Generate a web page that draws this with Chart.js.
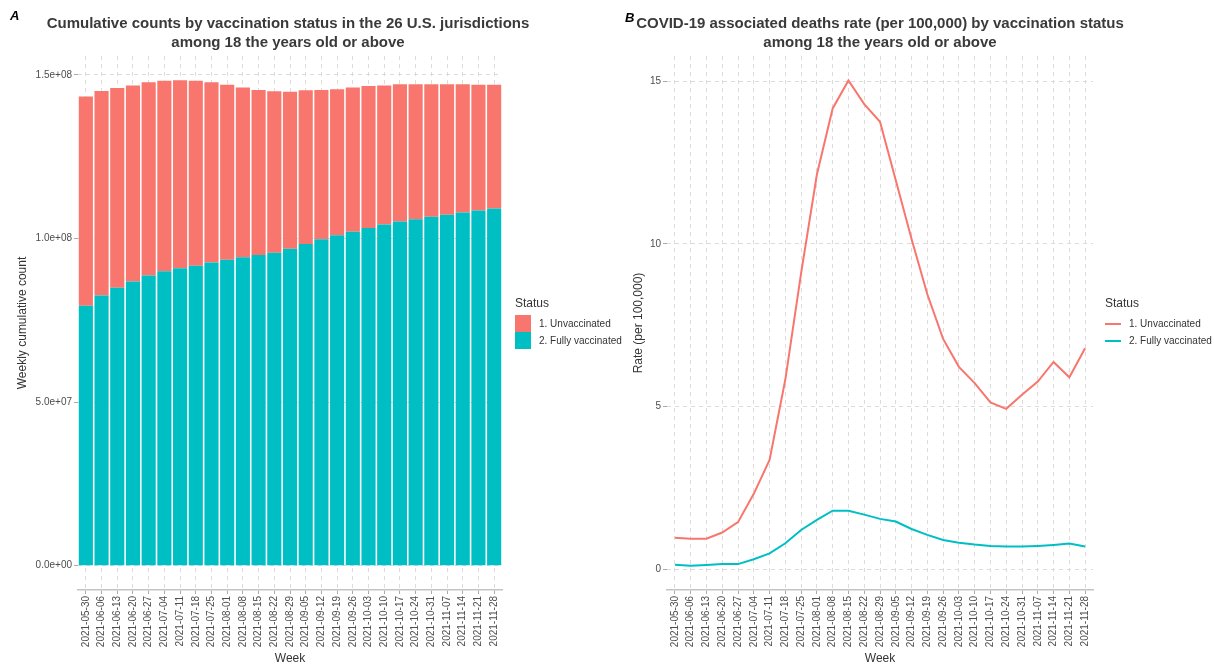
<!DOCTYPE html>
<html>
<head>
<meta charset="utf-8">
<script src="https://cdn.jsdelivr.net/npm/chart.js@4"></script>
<style>
  body { margin: 0; background: #fff; font-family: "Liberation Sans", Arial, sans-serif; }
  #wrap { position: relative; width: 1214px; height: 666px; overflow: hidden; }
  canvas { position: absolute; top: 0; }
  .title { position: absolute; font-weight: bold; font-size: 15px; line-height: 19px; color: #3a3a3a; text-align: center; white-space: nowrap; }
  .tag { position: absolute; font-weight: bold; font-style: italic; font-size: 13px; color: #000; }
  .leg { position: absolute; font-size: 10px; color: #333; }
  .leg .head { font-size: 12px; margin-bottom: 5px; }
  .leg .row { height: 17px; display: flex; align-items: center; }
  .leg .sq { width: 16px; height: 17px; margin-right: 8px; }
  .leg .ln { width: 16px; height: 2px; margin-right: 8px; }
</style>
</head>
<body>
<div id="wrap">
  <canvas id="chartA" width="620" height="666" style="left:0"></canvas>
  <canvas id="chartB" width="594" height="666" style="left:620px"></canvas>

  <div class="tag" style="left:10px;top:8px">A</div>
  <div class="title" style="left:288px;top:13px;transform:translateX(-50%)">Cumulative counts by vaccination status in the 26 U.S. jurisdictions<br>among 18 the years old or above</div>
  <div class="tag" style="left:625px;top:10px">B</div>
  <div class="title" style="left:880px;top:13px;transform:translateX(-50%)">COVID-19 associated deaths rate (per 100,000) by vaccination status<br>among 18 the years old or above</div>

  <div class="leg" style="left:515px;top:296px">
    <div class="head">Status</div>
    <div class="row"><div class="sq" style="background:#F8766D"></div>1. Unvaccinated</div>
    <div class="row"><div class="sq" style="background:#00BFC4"></div>2. Fully vaccinated</div>
  </div>
  <div class="leg" style="left:1105px;top:296px">
    <div class="head">Status</div>
    <div class="row"><div class="ln" style="background:#F8766D"></div>1. Unvaccinated</div>
    <div class="row"><div class="ln" style="background:#00BFC4"></div>2. Fully vaccinated</div>
  </div>
</div>

<script>
// weeks (shared by both panels)
const weeks = [
  '2021-05-30', '2021-06-06', '2021-06-13', '2021-06-20', '2021-06-27', '2021-07-04',
  '2021-07-11', '2021-07-18', '2021-07-25', '2021-08-01', '2021-08-08', '2021-08-15',
  '2021-08-22', '2021-08-29', '2021-09-05', '2021-09-12', '2021-09-19', '2021-09-26',
  '2021-10-03', '2021-10-10', '2021-10-17', '2021-10-24', '2021-10-31', '2021-11-07',
  '2021-11-14', '2021-11-21', '2021-11-28'
];

// panel A: weekly cumulative counts
const unvaccinatedCounts = [
  63.9e6, 62.5e6, 61.0e6, 59.9e6, 59.1e6, 58.2e6, 57.5e6, 56.5e6, 55.1e6,
  53.5e6, 51.9e6, 50.4e6, 49.3e6, 48.0e6, 47.0e6, 45.6e6, 44.6e6, 44.1e6,
  43.4e6, 42.5e6, 42.0e6, 41.3e6, 40.5e6, 39.9e6, 39.2e6, 38.4e6, 37.8e6
];
const vaccinatedCounts = [
  79.5e6, 82.6e6, 85.0e6, 86.9e6, 88.7e6, 90.0e6, 90.9e6, 91.7e6, 92.7e6,
  93.5e6, 94.3e6, 95.0e6, 95.7e6, 96.9e6, 98.3e6, 99.8e6, 101.0e6, 102.1e6,
  103.2e6, 104.3e6, 105.2e6, 105.9e6, 106.7e6, 107.3e6, 108.0e6, 108.6e6, 109.2e6
];
const countTicks = [0, 5e7, 1e8, 1.5e8];
const countTickLabels = ['0.0e+00', '5.0e+07', '1.0e+08', '1.5e+08'];

// panel B: deaths rate per 100,000
const unvaccinatedRate = [
  0.97, 0.94, 0.94, 1.13, 1.45, 2.32, 3.36, 5.83, 9.1,
  12.13, 14.16, 15.02, 14.29, 13.75, 11.95, 10.15, 8.45, 7.08,
  6.22, 5.72, 5.13, 4.93, 5.36, 5.77, 6.37, 5.90, 6.79
];
const vaccinatedRate = [
  0.14, 0.11, 0.13, 0.16, 0.16, 0.31, 0.49, 0.80, 1.21,
  1.52, 1.80, 1.80, 1.68, 1.55, 1.47, 1.24, 1.06, 0.90,
  0.82, 0.76, 0.72, 0.70, 0.70, 0.72, 0.75, 0.79, 0.70
];
const rateTicks = [0, 5, 10, 15];
const rateTickLabels = ['0', '5', '10', '15'];

const RED = '#F8766D';
const TEAL = '#00BFC4';
const GRID = '#dcdcdc';
const TICKTXT = '#4d4d4d';

Chart.defaults.font.family = '"Liberation Sans", Arial, sans-serif';
Chart.defaults.animation = false;

function fixTicks(values) {
  return scale => { scale.ticks = values.map(v => ({ value: v })); };
}

function xScale(stacked) {
  return {
    type: 'category',
    stacked: stacked,
    offset: true,
    afterFit: s => { s.height = 76; },
    grid: { offset: false, color: GRID, lineWidth: 1, tickLength: 4, tickColor: '#aaa', tickWidth: 1 },
    border: { display: true, color: '#c4c4c4', width: 1.5, dash: [4, 4] },
    ticks: { autoSkip: false, minRotation: 90, maxRotation: 90, padding: 2, color: TICKTXT, font: { size: 10 } },
    title: { display: true, text: 'Week', color: '#333', font: { size: 12 }, padding: { top: 0, bottom: 0 } }
  };
}

function yScale(min, max, ticks, labels, width, title, titlePad, stacked) {
  return {
    type: 'linear',
    stacked: stacked,
    min: min,
    max: max,
    afterFit: s => { s.width = width; },
    afterBuildTicks: fixTicks(ticks),
    grid: { color: GRID, lineWidth: 1, tickLength: 4, tickColor: '#aaa', tickWidth: 1 },
    border: { display: false, dash: [4, 4] },
    ticks: {
      padding: 2, color: TICKTXT, font: { size: 10 },
      callback: v => labels[ticks.indexOf(v)]
    },
    title: { display: true, text: title, color: '#333', font: { size: 12 }, padding: { top: titlePad, bottom: 0 } }
  };
}

// A: stacked bars
new Chart(document.getElementById('chartA'), {
  type: 'bar',
  data: {
    labels: weeks,
    datasets: [
      { label: '2. Fully vaccinated', data: vaccinatedCounts, backgroundColor: TEAL,
        categoryPercentage: 0.9, barPercentage: 1.0 },
      { label: '1. Unvaccinated', data: unvaccinatedCounts, backgroundColor: RED,
        categoryPercentage: 0.9, barPercentage: 1.0 }
    ]
  },
  options: {
    responsive: false,
    layout: { padding: { top: 56, right: 118, left: 0, bottom: 0 } },
    plugins: { legend: { display: false }, tooltip: { enabled: false } },
    scales: {
      x: xScale(true),
      y: yScale(-7.42e6, 155.8e6, countTicks, countTickLabels, 78, 'Weekly cumulative count', 15, true)
    }
  }
});

// B: lines
new Chart(document.getElementById('chartB'), {
  type: 'line',
  data: {
    labels: weeks,
    datasets: [
      { label: '1. Unvaccinated', data: unvaccinatedRate, borderColor: RED, borderWidth: 2,
        pointRadius: 0, tension: 0, fill: false },
      { label: '2. Fully vaccinated', data: vaccinatedRate, borderColor: TEAL, borderWidth: 2,
        pointRadius: 0, tension: 0, fill: false }
    ]
  },
  options: {
    responsive: false,
    layout: { padding: { top: 56, right: 121, left: 0, bottom: 0 } },
    plugins: { legend: { display: false }, tooltip: { enabled: false } },
    scales: {
      x: xScale(false),
      y: yScale(-0.635, 15.77, rateTicks, rateTickLabels, 47, 'Rate (per 100,000)', 11, false)
    }
  }
});
</script>
</body>
</html>
